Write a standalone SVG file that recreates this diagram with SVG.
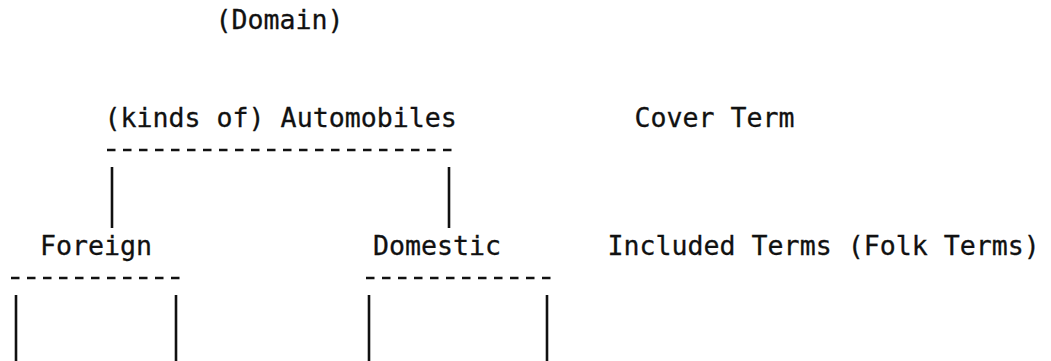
<svg xmlns="http://www.w3.org/2000/svg" width="1051" height="361" viewBox="0 0 1051 361">
  <style>
    .t { font-family: "DejaVu Sans Mono", "Liberation Mono", monospace; font-size: 26.6px; fill: #111; stroke: #111; stroke-width: 0.3; }
    .dash { stroke: #111; stroke-width: 2.6; stroke-dasharray: 8.5 7.5; fill: none; }
    .bar { stroke: #111; stroke-width: 2.6; fill: none; }
  </style>
  <rect width="1051" height="361" fill="#fff"/>
  <g id="domain"><text class="t" x="215.5" y="28.5">(Domain)</text></g>
  <g id="automobiles"><text class="t" x="104.5" y="127">(kinds of) Automobiles</text></g>
  <g id="cover-term"><text class="t" x="634.5" y="127">Cover Term</text></g>
  <g id="foreign"><text class="t" x="40" y="255">Foreign</text></g>
  <g id="domestic"><text class="t" x="373" y="255">Domestic</text></g>
  <g id="included-terms"><text class="t" x="607.5" y="255">Included Terms (Folk Terms)</text></g>
  <g id="connectors">
    <line class="dash" x1="107" y1="150" x2="452" y2="150"/>
    <line class="bar" x1="112" y1="167" x2="112" y2="228"/>
    <line class="bar" x1="449" y1="167" x2="449" y2="228"/>
    <line class="dash" x1="11" y1="278" x2="180" y2="278"/>
    <line class="dash" x1="366" y1="278" x2="551" y2="278"/>
    <line class="bar" x1="16" y1="295" x2="16" y2="361"/>
    <line class="bar" x1="176" y1="295" x2="176" y2="361"/>
    <line class="bar" x1="369" y1="295" x2="369" y2="361"/>
    <line class="bar" x1="547" y1="295" x2="547" y2="361"/>
  </g>
</svg>
